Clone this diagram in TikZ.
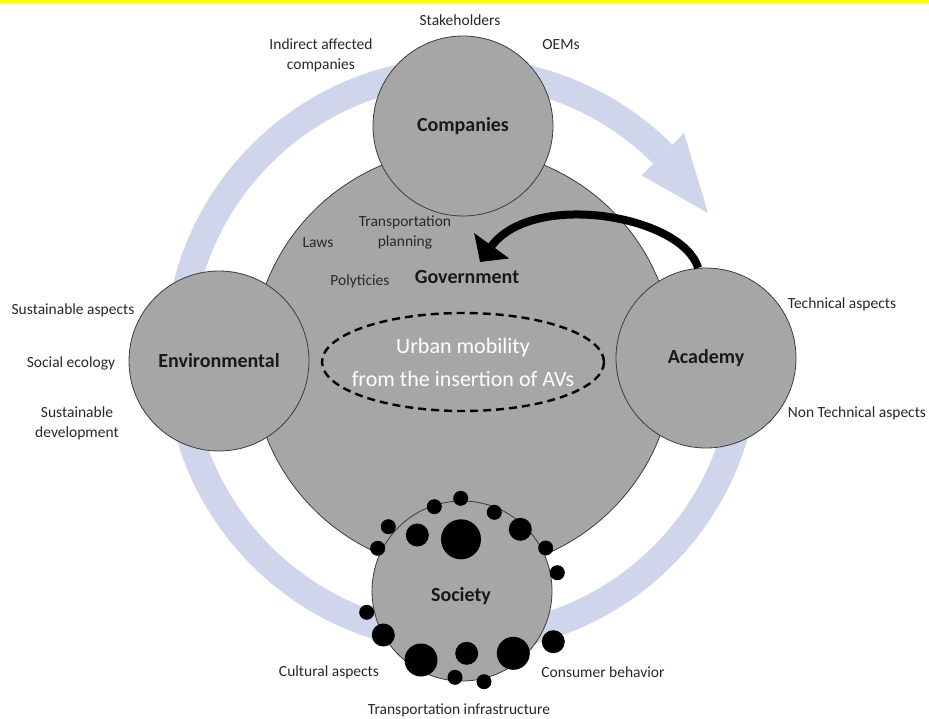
\documentclass[tikz,border=0pt]{standalone}
\usepackage{fontspec}
\setmainfont{Carlito}
\usepackage{tikz}
\usetikzlibrary{calc, arrows.meta}

\definecolor{ringblue}{RGB}{207,213,234}
\definecolor{discgray}{RGB}{166,166,166}
\definecolor{rimgray}{RGB}{60,60,60}
\definecolor{labeltext}{RGB}{40,40,40}
\definecolor{topline}{RGB}{255,255,0}

\begin{document}
\begin{tikzpicture}[x = 1pt, y = -1pt,
		disc/.style = {circle, draw = rimgray, line width = 0.8pt, fill = discgray, inner sep = 0pt, minimum size = #1},
		title/.style = {font = \fontsize{20}{24}\selectfont\bfseries, text = black!90},
		aspect/.style = {font = \fontsize{15.5}{20}\selectfont, text = labeltext, align = center, inner sep = 0pt}]
			\def\xMAX{929};
			\def\yMAX{718};

			\def\ringR{284};
			\def\ringW{27};

			\useasboundingbox (0,0) rectangle (\xMAX,\yMAX);
			\fill [topline] (0,0) rectangle (\xMAX,3);

			% cycle ring
			\begin{scope}
				\coordinate (ringc) at (462,355);
				\draw [ringblue, line width = \ringW pt] ($(ringc)+(5:\ringR)$) arc [start angle = 5, end angle = 315, radius = \ringR];
				\fill [ringblue] ($(ringc)+(315:\ringR-30)$) -- ($(ringc)+(330:\ringR)$) -- ($(ringc)+(315:\ringR+30)$) -- cycle;
			\end{scope}

			% discs
			\begin{scope}
				\node [disc = 422pt] (gov) at (463,360) {};
				\node [disc = 180pt, title] (companies) at (463,126) {Companies};
				\node [disc = 180pt, title] (environmental) at (219,361) {Environmental};
				\node [disc = 180pt, title] (academy) at (706,358) {Academy};
				\node [disc = 180pt] (society) at (462,591) {};
				\node [title] (govtitle) at (467,277) {Government};
				\node [title] (societytitle) at (461,596) {Society};
			\end{scope}

			\begin{scope}
				\foreach \x/\y/\r in {460.7/498.3/7.5, 434.3/506.7/7.5, 494.3/512.3/7.5, 388.3/526.7/7.5,
						417.3/535/11.5, 461/539.3/20, 520.3/529.3/11.5, 377.7/548.3/7.5, 545.7/548/7.5,
						557.3/572.7/7.5, 366.7/612.3/7.5, 383.3/635/11.5, 421/660/16.5, 466.7/653.3/11.5,
						513.3/653.3/16.5, 553.3/641.7/11.5, 455/677.3/7.5, 484/681.7/7.5}
					\fill (\x,\y) circle [radius = \r];
			\end{scope}

			% core
			\node [align = center, text = white, font = \fontsize{22}{33}\selectfont] (core) at (463,362) {Urban mobility\\from the insertion of AVs};
			\draw [line width = 2.4pt, dash pattern = on 8pt off 5pt] (core.center) ellipse [x radius = 141, y radius = 49];

			% aspects
			\begin{scope}
				\node [aspect] (stakeholders) at (460,20) {Stakeholders};
				\node [aspect] (indirect) at (321,55) {Indirect affected\\companies};
				\node [aspect] (oems) at (561,45) {OEMs};
				\node [aspect] (transplan) at (405,232) {Transportation\\planning};
				\node [aspect] (laws) at (318,243) {Laws};
				\node [aspect] (policies) at (360,281) {Polyticies};
				\node [aspect] (sustasp) at (73,310) {Sustainable aspects};
				\node [aspect] (socecol) at (71,363) {Social ecology};
				\node [aspect] (sustdev) at (77,423) {Sustainable\\development};
				\node [aspect] (techasp) at (842,304) {Technical aspects};
				\node [aspect] (nontech) at (857,413) {Non Technical aspects};
				\node [aspect] (cultural) at (329,672) {Cultural aspects};
				\node [aspect] (consumer) at (603,672) {Consumer behavior};
				\node [aspect] (infra) at (459,710) {Transportation infrastructure};
			\end{scope}

			\begin{scope}
				\coordinate (govtip) at (480,262);
				\draw [line width = 8pt, -{Triangle[width = 42pt, length = 20pt]}] (academy.95) .. controls (682,215) and (532,190) .. (govtip);
			\end{scope}
		\end{tikzpicture}
\end{document}
